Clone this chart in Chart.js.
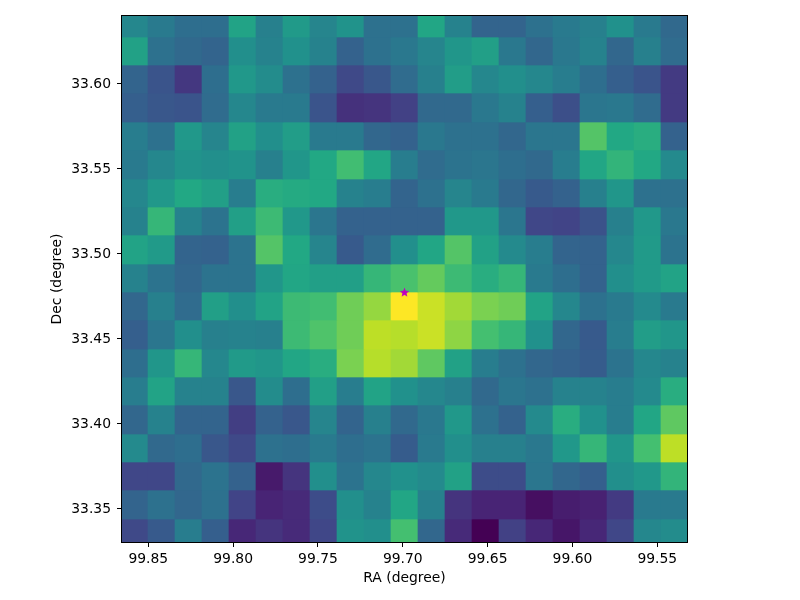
<!DOCTYPE html>
<html>
<head>
<meta charset="utf-8">
<title>RA / Dec map</title>
<style>
	html, body { margin: 0; padding: 0; background: #fff; }
	canvas { display: block; }
</style>
<script src="https://cdn.jsdelivr.net/npm/chart.js@4/dist/chart.umd.js"></script>
</head>
<body>
<canvas id="myChart" width="800" height="600"></canvas>
<script>
// Image values, top row first, on a 0-100 colour scale
const row00 = [46, 41, 36, 36, 58, 43, 54, 45, 51, 37, 37, 59, 44, 32, 32, 37, 41, 43, 50, 41, 34];
const row01 = [57, 37, 34, 32, 49, 44, 50, 44, 31, 37, 40, 45, 52, 56, 40, 33, 40, 44, 33, 43, 35];
const row02 = [32, 26, 16, 36, 53, 48, 37, 31, 22, 27, 35, 43, 55, 46, 49, 46, 42, 36, 30, 26, 17];
const row03 = [30, 27, 26, 35, 46, 41, 41, 26, 14, 15, 19, 34, 34, 40, 44, 30, 24, 39, 40, 35, 17];
const row04 = [42, 37, 53, 45, 57, 49, 55, 41, 41, 33, 31, 40, 37, 37, 33, 39, 39, 73, 60, 62, 31];
const row05 = [41, 46, 51, 49, 51, 43, 52, 60, 69, 59, 42, 35, 38, 39, 36, 34, 42, 59, 65, 60, 47];
const row06 = [46, 53, 60, 56, 42, 62, 61, 60, 44, 42, 32, 37, 45, 41, 33, 28, 31, 43, 52, 37, 37];
const row07 = [44, 66, 44, 38, 56, 68, 53, 39, 31, 31, 31, 31, 53, 53, 39, 21, 20, 25, 43, 53, 40];
const row08 = [58, 54, 32, 31, 38, 73, 60, 45, 28, 35, 49, 59, 73, 57, 47, 42, 32, 31, 46, 54, 38];
const row09 = [44, 38, 33, 38, 38, 52, 59, 56, 56, 66, 71, 76, 68, 62, 66, 41, 36, 31, 49, 54, 58];
const row10 = [33, 43, 35, 56, 49, 58, 68, 69, 78, 84, 100, 92, 86, 80, 78, 58, 46, 37, 41, 47, 41];
const row11 = [30, 39, 49, 43, 44, 43, 68, 72, 78, 90, 89, 92, 83, 70, 66, 50, 33, 28, 42, 55, 52];
const row12 = [36, 52, 66, 46, 54, 52, 59, 62, 80, 89, 86, 75, 57, 42, 37, 33, 31, 29, 38, 46, 44];
const row13 = [42, 58, 44, 44, 27, 48, 36, 56, 42, 58, 50, 46, 43, 34, 39, 37, 44, 44, 42, 47, 62];
const row14 = [33, 44, 32, 32, 18, 31, 27, 45, 32, 43, 34, 40, 53, 37, 31, 47, 62, 50, 42, 59, 75];
const row15 = [47, 34, 36, 27, 22, 37, 36, 41, 36, 38, 29, 41, 49, 43, 43, 40, 53, 66, 52, 70, 90];
const row16 = [21, 21, 34, 38, 31, 7, 15, 49, 38, 46, 50, 47, 57, 23, 23, 39, 33, 30, 49, 53, 65];
const row17 = [32, 37, 33, 37, 20, 10, 12, 23, 49, 44, 59, 43, 15, 10, 10, 4, 8, 9, 17, 41, 41];
const row18 = [22, 28, 42, 30, 11, 15, 12, 21, 51, 49, 70, 33, 12, 0, 19, 11, 6, 11, 21, 46, 48];
const rows = [row00, row01, row02, row03, row04, row05, row06, row07, row08, row09,
	row10, row11, row12, row13, row14, row15, row16, row17, row18];

// Cell borders in Dec, top to bottom
const decEdges = [33.6403, 33.627359, 33.610888, 33.594418, 33.577359, 33.560888, 33.543829,
	33.527359, 33.510888, 33.493829, 33.477359, 33.460888, 33.443829, 33.427359, 33.410888,
	33.393829, 33.377359, 33.360888, 33.343829, 33.3303];

// Centre of the first column and column width in RA
const raFirst = 99.858133;
const raStep = 0.015913;

const raTicks = [99.85, 99.80, 99.75, 99.70, 99.65, 99.60, 99.55];
const decTicks = [33.35, 33.40, 33.45, 33.50, 33.55, 33.60];

const starRa = [99.699];
const starDec = [33.477];

const viridis = ["#440154", "#482475", "#414487", "#355f8d", "#2a788e", "#21918c",
	"#22a884", "#44bf70", "#7ad151", "#bddf26", "#fde725"];

function hexToRgb(hex) {
	return [1, 3, 5].map(i => parseInt(hex.substr(i, 2), 16));
}

function colorFor(value) {
	let pos = value / 10;
	let i = Math.min(Math.floor(pos), viridis.length - 2);
	let a = hexToRgb(viridis[i]);
	let b = hexToRgb(viridis[i + 1]);
	let mix = a.map((c, k) => Math.round(c + (b[k] - c) * (pos - i)));
	return "rgb(" + mix.join(",") + ")";
}

// Chart.js "star" is only crossed lines, so make a 5 point one for the marker
function makeStar() {
	let c = document.createElement("canvas");
	c.width = 11;
	c.height = 11;
	let ctx = c.getContext("2d");
	ctx.fillStyle = "#bf00bf";
	ctx.beginPath();
	for (let i = 0; i < 10; i++) {
		let r = i % 2 == 0 ? 4.9 : 2.2;
		let ang = -Math.PI / 2 + i * Math.PI / 5;
		ctx.lineTo(5.5 + r * Math.cos(ang), 5.5 + r * Math.sin(ang));
	}
	ctx.closePath();
	ctx.fill();
	return c;
}

let datasets = rows.map((row, r) => ({
	type: "bar",
	data: row.map((v, i) => ({ x: raFirst - i * raStep, y: [decEdges[r + 1], decEdges[r]] })),
	backgroundColor: row.map(colorFor),
	borderWidth: 0,
	grouped: false,
	barPercentage: 1,
	categoryPercentage: 1,
	order: 2
}));

datasets.push({
	type: "scatter",
	data: starRa.map((ra, i) => ({ x: ra, y: starDec[i] })),
	pointStyle: makeStar(),
	order: 1
});

// Box around the plot, the axes only give the left and bottom sides
const frame = {
	id: "frame",
	afterDraw(chart) {
		let a = chart.chartArea;
		let ctx = chart.ctx;
		ctx.save();
		ctx.strokeStyle = "#000";
		ctx.lineWidth = 1;
		ctx.strokeRect(a.left - 0.5, a.top - 0.5, a.right - a.left + 1, a.bottom - a.top + 1);
		ctx.restore();
	}
};

const tickFont = { family: "DejaVu Sans", size: 13.9 };

new Chart(document.getElementById("myChart"), {
	type: "bar",
	data: { datasets: datasets },
	plugins: [frame],
	options: {
		responsive: false,
		animation: false,
		layout: { padding: { top: 16, right: 113, left: 0, bottom: 0 } },
		plugins: { legend: { display: false }, tooltip: { enabled: false } },
		scales: {
			x: {
				type: "linear",
				reverse: true,
				offset: false,
				min: 99.5325,
				max: 99.8655,
				afterBuildTicks: s => { s.ticks = raTicks.map(v => ({ value: v })); },
				afterFit: s => { s.height = 58; },
				grid: { offset: false, drawOnChartArea: false, tickLength: 5, tickColor: "#000" },
				border: { color: "#000" },
				ticks: {
					color: "#000",
					font: tickFont,
					padding: 4,
					maxRotation: 0,
					callback: v => v.toFixed(2)
				},
				title: { display: true, text: "RA (degree)", color: "#000", font: tickFont, padding: { top: 2, bottom: 13 } }
			},
			y: {
				type: "linear",
				min: 33.3303,
				max: 33.639712,
				afterBuildTicks: s => { s.ticks = decTicks.map(v => ({ value: v })); },
				afterFit: s => { s.width = 122; },
				grid: { drawOnChartArea: false, tickLength: 5, tickColor: "#000" },
				border: { color: "#000" },
				ticks: {
					color: "#000",
					font: tickFont,
					padding: 6,
					labelOffset: 1,
					callback: v => v.toFixed(2)
				},
				title: { display: true, text: "Dec (degree)", color: "#000", font: tickFont, padding: { top: 49, bottom: 2 } }
			}
		}
	}
});
</script>
</body>
</html>
